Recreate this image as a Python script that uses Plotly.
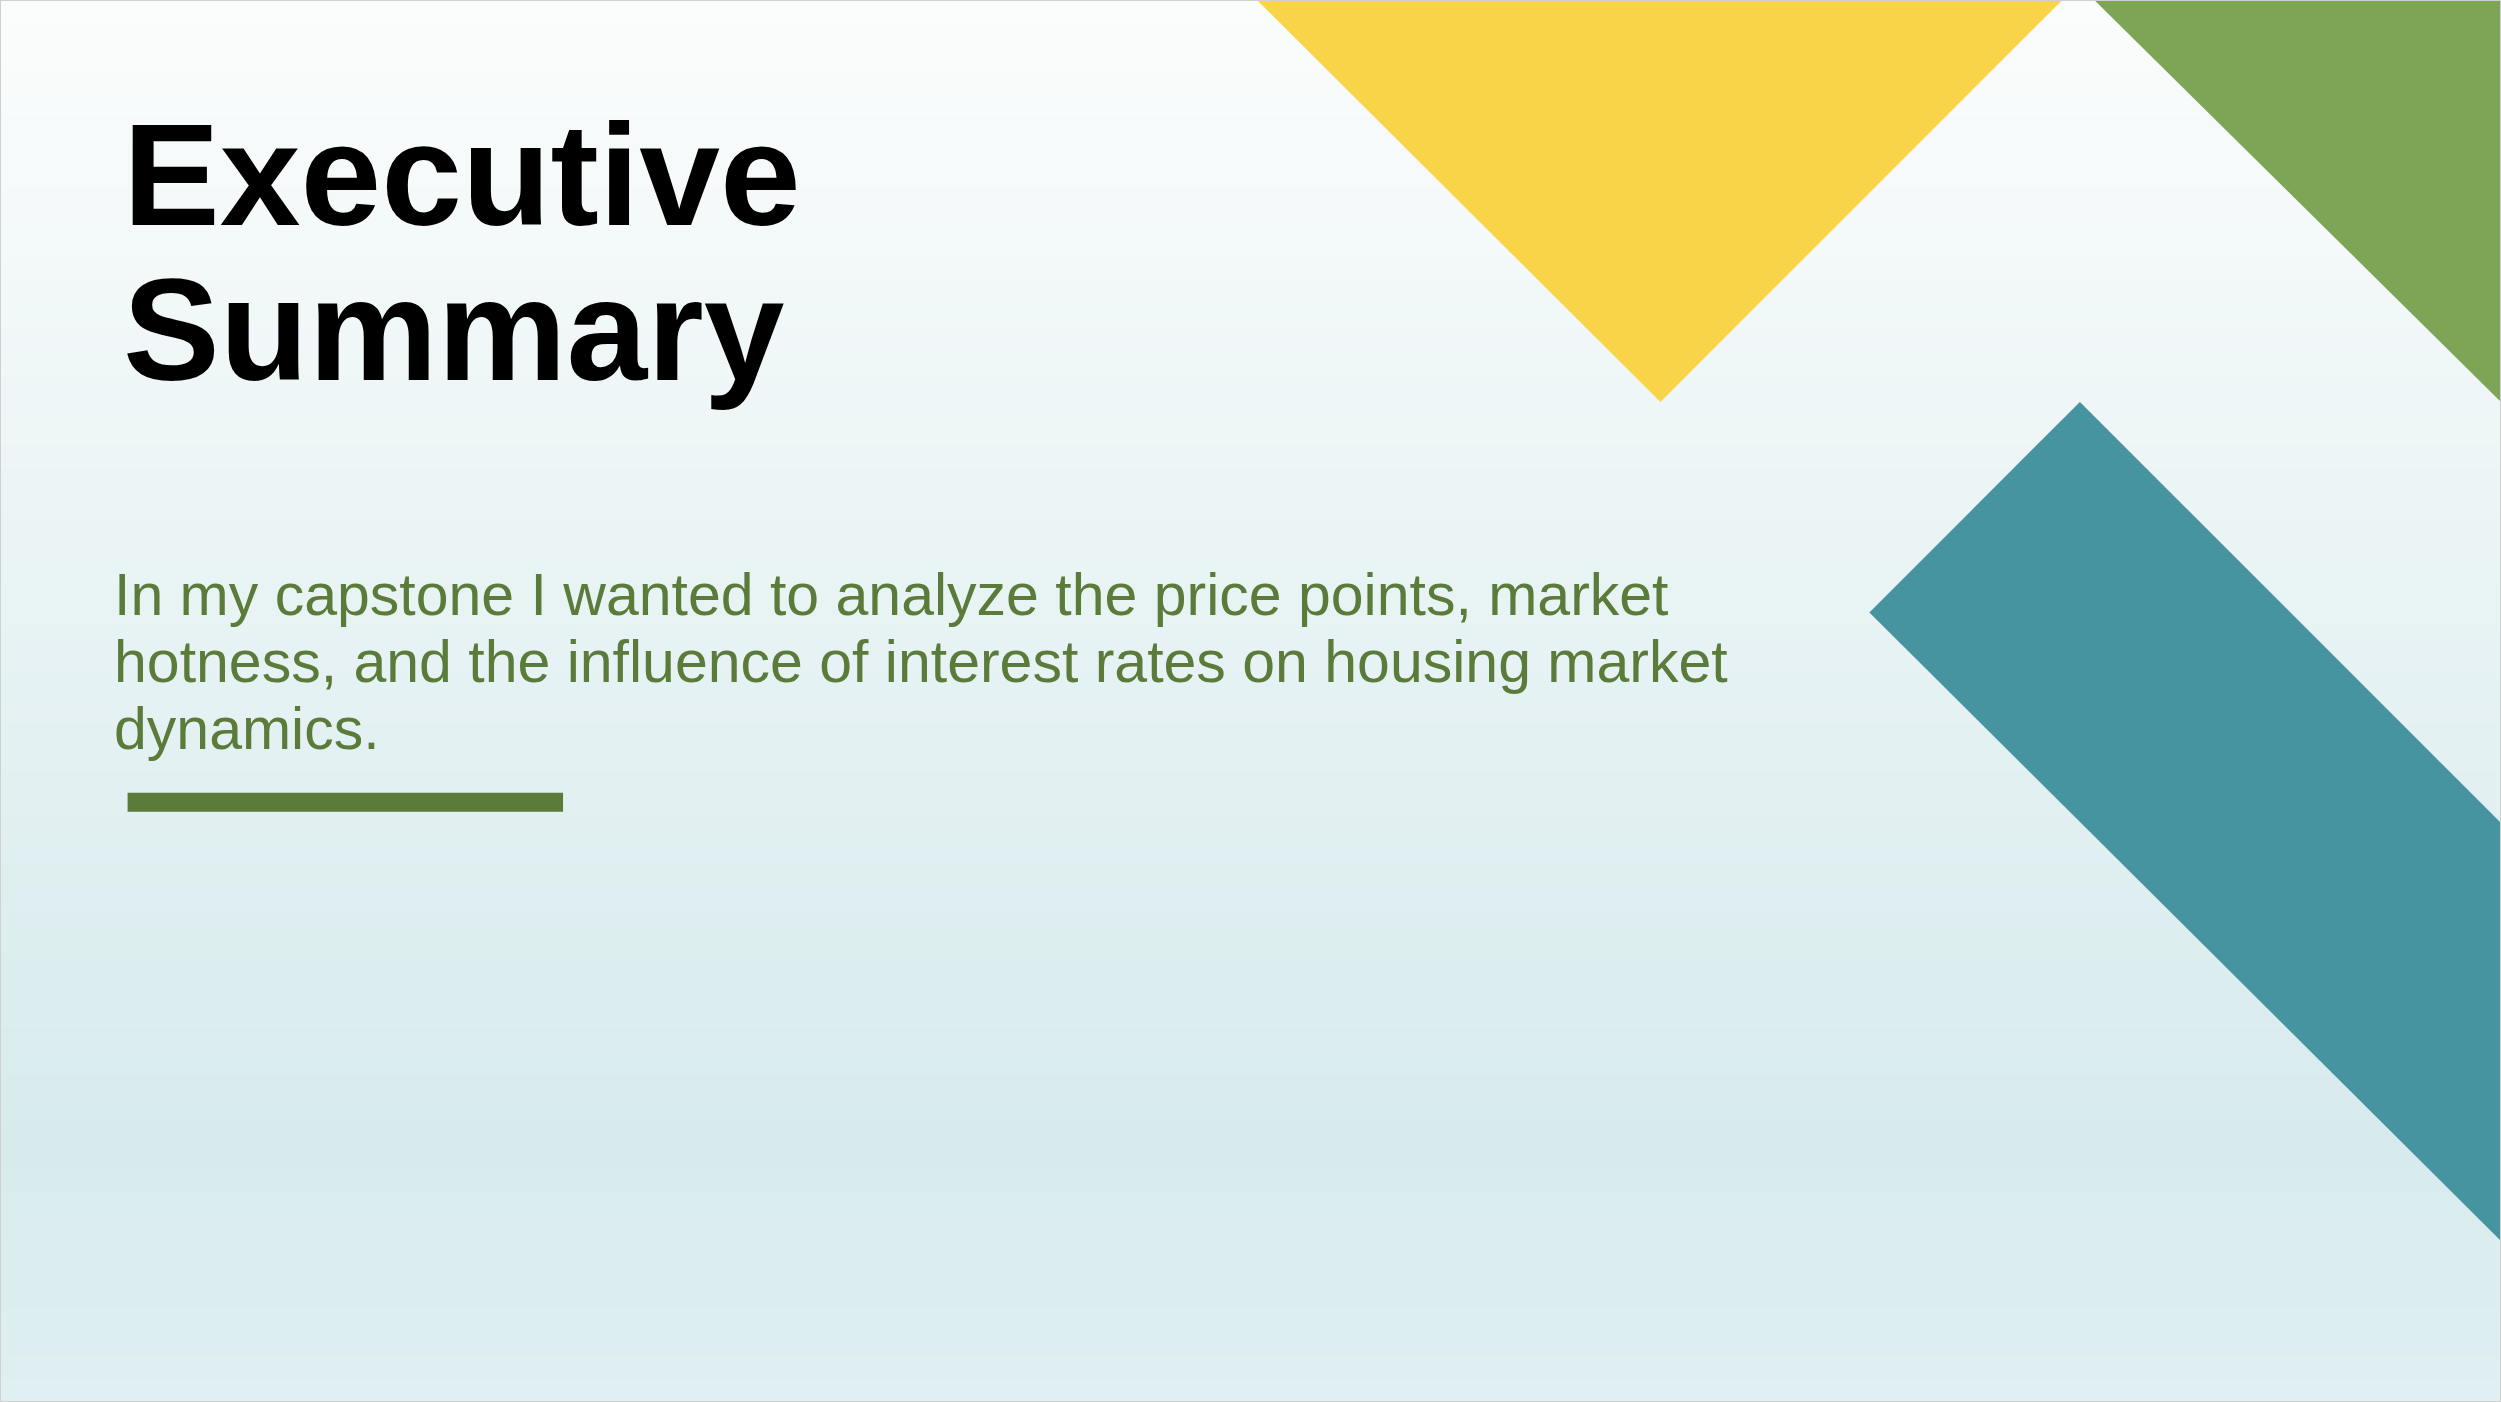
import plotly.graph_objects as go

W, H = 1568, 879
S = 2501 / 1568
title_lines = ["Executive", "Summary"]
body_lines = ["In my capstone I wanted to analyze the price points, market",
              "hotness, and the influence of interest rates on housing market",
              "dynamics."]

fig = go.Figure()
shapes = []
top = (252, 253, 253); mid = (215, 235, 237); bot = (225, 240, 242)
n = 60
for i in range(n):
    y0 = H * i / n; y1 = H * (i + 1) / n + 1
    t = (y0 + y1) / 2 / H
    if t < 0.82:
        f = t / 0.82; c = [top[k] + (mid[k] - top[k]) * f for k in range(3)]
    else:
        f = (t - 0.82) / 0.18; c = [mid[k] + (bot[k] - mid[k]) * f for k in range(3)]
    shapes.append(dict(type="rect", x0=0, x1=W, y0=y0, y1=y1, line_width=0,
                       fillcolor="rgb(%d,%d,%d)" % tuple(int(v) for v in c), layer="below"))
shapes += [
    dict(type="path", path="M 788 0 L 1293 0 L 1041 252 Z", fillcolor="#F9D449", line_width=0),
    dict(type="path", path="M 1313 0 L 1568 0 L 1568 252 Z", fillcolor="#7CA555", line_width=0),
    dict(type="path", path="M 1304 252 L 1568 516 L 1568 778 L 1172 384 Z", fillcolor="#4594A0", line_width=0),
    dict(type="path", path="M 80 497 L 353 497 L 353 509 L 80 509 Z", fillcolor="#5B7B3A", line_width=0),
    dict(type="rect", x0=0, x1=W, y0=0, y1=H, line=dict(color="#d0d0d0", width=2)),
]
ann = []
for i, t in enumerate(title_lines):
    ann.append(dict(x=76, y=110 + i * 97, text="<b>%s</b>" % t, showarrow=False, xanchor="left",
                    yanchor="middle", font=dict(family="Liberation Sans", size=91 * S, color="#000")))
for i, t in enumerate(body_lines):
    ann.append(dict(x=70, y=373 + i * 42, text=t, showarrow=False, xanchor="left", yanchor="middle",
                    font=dict(family="Liberation Sans", size=37 * S, color="#5B7B3A")))
fig.update_layout(width=2501, height=1402, margin=dict(l=0, r=0, t=0, b=0),
                  shapes=shapes, annotations=ann, paper_bgcolor="white", plot_bgcolor="white",
                  xaxis=dict(range=[0, W], visible=False, fixedrange=True),
                  yaxis=dict(range=[H, 0], visible=False, fixedrange=True), showlegend=False)
fig.write_html("out.html", config={"displayModeBar": False})
with open("out.html", encoding="utf-8") as fh:
    html = fh.read()
html = html.replace("<body>", '<body style="margin:0">', 1)
with open("out.html", "w", encoding="utf-8") as fh:
    fh.write(html)
